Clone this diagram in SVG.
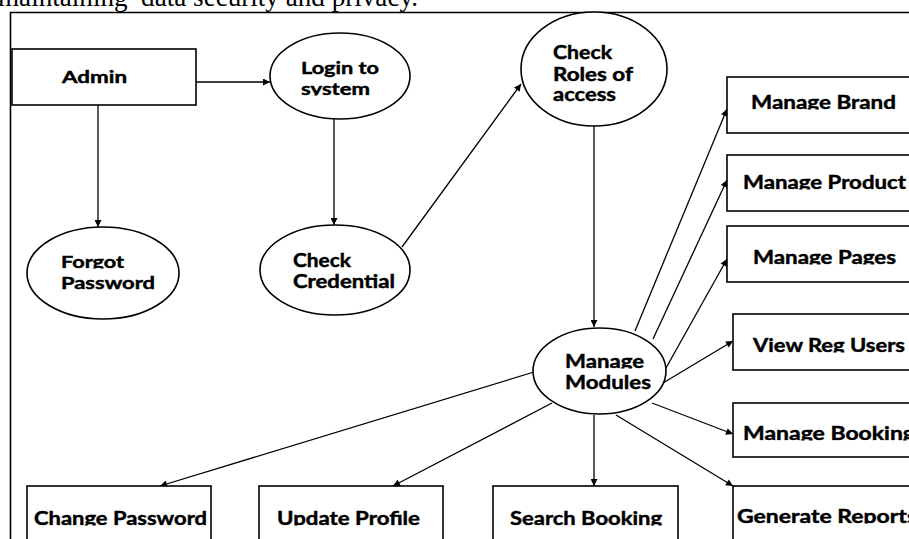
<svg xmlns="http://www.w3.org/2000/svg" width="909" height="539" viewBox="0 0 909 539">
<style>
.box{fill:#fff;stroke:#000;stroke-width:1.6}
.ell{fill:#fff;stroke:#000;stroke-width:1.6}
.t{font-family:Lato,"Open Sans","Liberation Sans",sans-serif;font-weight:bold;fill:#000;stroke:#000;stroke-width:0.45}
.c{stroke:#000;stroke-width:1.3;fill:none;marker-end:url(#ah)}
.frame{stroke:#000;stroke-width:1.6;fill:none}
</style>
<defs>
<marker id="ah" viewBox="0 0 10 10" refX="10" refY="5" markerWidth="8" markerHeight="7" markerUnits="userSpaceOnUse" orient="auto">
<path d="M0,0 L10,5 L0,10 z" fill="#000"/>
</marker>
<clipPath id="cut">
<rect x="280" y="50" width="120" height="24.5"/>
<rect x="280" y="74.5" width="120" height="21"/>
<rect x="40" y="245" width="130" height="23.5"/>
<rect x="550" y="345" width="110" height="23.5"/>
<rect x="735" y="85" width="174" height="24.5"/>
<rect x="735" y="165" width="174" height="24.5"/>
<rect x="735" y="240" width="174" height="24.5"/>
<rect x="735" y="330" width="174" height="22.5"/>
<rect x="735" y="418" width="174" height="22.5"/>
<rect x="735" y="500" width="174" height="23.5"/>
<rect x="20" y="500" width="680" height="25.5"/>
</clipPath>
</defs>
<rect width="909" height="539" fill="#fff"/>
<text x="-2" y="6" font-family="Liberation Serif,serif" font-size="27" fill="#000" xml:space="preserve" textLength="420" lengthAdjust="spacingAndGlyphs">maintaining  data security and privacy.</text>
<path class="frame" d="M10.5,539 V12.5 H909"/>

<g id="connectors">
<line class="c" x1="196" y1="82" x2="270" y2="82"/>
<line class="c" x1="98" y1="105" x2="98" y2="227"/>
<line class="c" x1="334" y1="118" x2="334" y2="225"/>
<line class="c" x1="402" y1="247" x2="521" y2="84"/>
<line class="c" x1="594" y1="126" x2="594" y2="327"/>
<line class="c" x1="635" y1="331" x2="727" y2="109"/>
<line class="c" x1="653" y1="339" x2="727" y2="180"/>
<line class="c" x1="666" y1="368" x2="727" y2="259"/>
<line class="c" x1="663" y1="383" x2="733" y2="341"/>
<line class="c" x1="652" y1="403" x2="733" y2="434"/>
<line class="c" x1="616" y1="415" x2="733" y2="486"/>
<line class="c" x1="594" y1="415" x2="594" y2="486"/>
<line class="c" x1="552" y1="403" x2="393" y2="486"/>
<line class="c" x1="534" y1="372" x2="160" y2="486"/>
</g>

<g id="admin">
<rect class="box" x="12" y="49" width="184" height="56"/>
<text class="t" x="62" y="83" font-size="17.5" textLength="65" lengthAdjust="spacingAndGlyphs">Admin</text>
</g>
<g id="login">
<ellipse class="ell" cx="340" cy="76" rx="70" ry="43"/>
<text class="t" x="301" y="74" font-size="17.5" textLength="78" lengthAdjust="spacingAndGlyphs" clip-path="url(#cut)">Login to</text>
<text class="t" x="301" y="95" font-size="17.5" textLength="69" lengthAdjust="spacingAndGlyphs" clip-path="url(#cut)">system</text>
</g>
<g id="forgot">
<ellipse class="ell" cx="103" cy="273" rx="76" ry="46"/>
<text class="t" x="61" y="268" font-size="17.5" textLength="63" lengthAdjust="spacingAndGlyphs" clip-path="url(#cut)">Forgot</text>
<text class="t" x="61" y="289" font-size="17.5" textLength="94" lengthAdjust="spacingAndGlyphs">Password</text>
</g>
<g id="credential">
<ellipse class="ell" cx="335" cy="270" rx="75" ry="45"/>
<text class="t" x="293" y="267" font-size="18.5" textLength="58" lengthAdjust="spacingAndGlyphs">Check</text>
<text class="t" x="293" y="288" font-size="18.5" textLength="102" lengthAdjust="spacingAndGlyphs">Credential</text>
</g>
<g id="roles">
<ellipse class="ell" cx="594" cy="69" rx="73" ry="57"/>
<text class="t" x="553" y="59" font-size="18.5" textLength="59" lengthAdjust="spacingAndGlyphs">Check</text>
<text class="t" x="553" y="81" font-size="18.5" textLength="80" lengthAdjust="spacingAndGlyphs">Roles of</text>
<text class="t" x="553" y="101" font-size="18.5" textLength="63" lengthAdjust="spacingAndGlyphs">access</text>
</g>
<g id="modules">
<ellipse class="ell" cx="599.5" cy="371" rx="66.5" ry="43"/>
<text class="t" x="565" y="368" font-size="19.5" textLength="79" lengthAdjust="spacingAndGlyphs" clip-path="url(#cut)">Manage</text>
<text class="t" x="565" y="389" font-size="19.5" textLength="86" lengthAdjust="spacingAndGlyphs">Modules</text>
</g>
<g id="brand">
<rect class="box" x="727" y="77" width="200" height="56"/>
<text class="t" x="751" y="109" font-size="19.5" textLength="145" lengthAdjust="spacingAndGlyphs" clip-path="url(#cut)">Manage Brand</text>
</g>
<g id="product">
<rect class="box" x="727" y="155" width="200" height="56"/>
<text class="t" x="743" y="189" font-size="19.5" textLength="163" lengthAdjust="spacingAndGlyphs" clip-path="url(#cut)">Manage Product</text>
</g>
<g id="pages">
<rect class="box" x="727" y="226" width="200" height="56"/>
<text class="t" x="753" y="264" font-size="19.5" textLength="143" lengthAdjust="spacingAndGlyphs" clip-path="url(#cut)">Manage Pages</text>
</g>
<g id="regusers">
<rect class="box" x="733" y="314" width="200" height="56"/>
<text class="t" x="753" y="352" font-size="19.5" textLength="152" lengthAdjust="spacingAndGlyphs" clip-path="url(#cut)">View Reg Users</text>
</g>
<g id="booking">
<rect class="box" x="733" y="403" width="200" height="54"/>
<text class="t" x="743" y="440" font-size="19.5" textLength="172" lengthAdjust="spacingAndGlyphs" clip-path="url(#cut)">Manage Booking</text>
</g>
<g id="reports">
<rect class="box" x="733" y="486" width="200" height="70"/>
<text class="t" x="737" y="523" font-size="19.5" textLength="180" lengthAdjust="spacingAndGlyphs" clip-path="url(#cut)">Generate Reports</text>
</g>
<g id="changepw">
<rect class="box" x="27" y="486" width="184" height="70"/>
<text class="t" x="34" y="525" font-size="19.5" textLength="173" lengthAdjust="spacingAndGlyphs" clip-path="url(#cut)">Change Password</text>
</g>
<g id="profile">
<rect class="box" x="259" y="486" width="184" height="70"/>
<text class="t" x="277" y="525" font-size="19.5" textLength="143" lengthAdjust="spacingAndGlyphs" clip-path="url(#cut)">Update Profile</text>
</g>
<g id="search">
<rect class="box" x="493" y="486" width="185" height="70"/>
<text class="t" x="510" y="525" font-size="19.5" textLength="152" lengthAdjust="spacingAndGlyphs" clip-path="url(#cut)">Search Booking</text>
</g>
</svg>
